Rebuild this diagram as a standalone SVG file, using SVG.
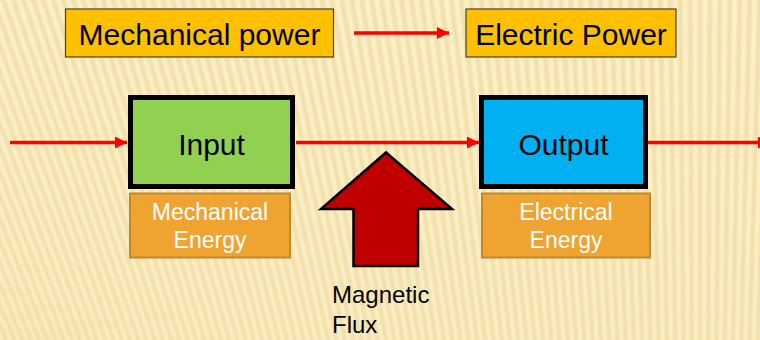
<svg xmlns="http://www.w3.org/2000/svg" width="760" height="340" viewBox="0 0 760 340">
<style>
.t{font-family:"Liberation Sans",Arial,sans-serif;}
.lbl{fill:#FFC000;stroke:#404040;stroke-width:1.2;}
.nrg{fill:#EFA432;stroke:#C4862A;stroke-width:2;}
.big{font-size:30px;fill:#000;text-anchor:middle;}
.wt{font-size:23px;fill:#FFFFFF;text-anchor:middle;}
.conn{stroke:#FF0000;stroke-width:3.5;fill:none;marker-end:url(#ah);}
</style>
<defs>
<marker id="ah" markerUnits="userSpaceOnUse" markerWidth="12" markerHeight="12" refX="12" refY="6" orient="auto">
<path d="M0,0 L12,6 L0,12 z" fill="#FF0000"/>
</marker>
<filter id="soft" x="-10%" y="-10%" width="120%" height="120%"><feGaussianBlur stdDeviation="1.6"/></filter>
</defs>
<rect width="760" height="340" fill="#FDF1CD"/>
<path filter="url(#soft)" stroke="#F0DBA0" stroke-width="4.5" fill="none" opacity="0.9" d="M700 2000L-300 -10M700 2000L-290 -10M700 2000L-280 -10M700 2000L-270 -10M700 2000L-260 -10M700 2000L-250 -10M700 2000L-240 -10M700 2000L-230 -10M700 2000L-220 -10M700 2000L-210 -10M700 2000L-200 -10M700 2000L-190 -10M700 2000L-180 -10M700 2000L-170 -10M700 2000L-160 -10M700 2000L-150 -10M700 2000L-140 -10M700 2000L-130 -10M700 2000L-120 -10M700 2000L-110 -10M700 2000L-100 -10M700 2000L-90 -10M700 2000L-80 -10M700 2000L-70 -10M700 2000L-60 -10M700 2000L-50 -10M700 2000L-40 -10M700 2000L-30 -10M700 2000L-20 -10M700 2000L-10 -10M700 2000L0 -10M700 2000L10 -10M700 2000L20 -10M700 2000L30 -10M700 2000L40 -10M700 2000L50 -10M700 2000L60 -10M700 2000L70 -10M700 2000L80 -10M700 2000L90 -10M700 2000L100 -10M700 2000L110 -10M700 2000L120 -10M700 2000L130 -10M700 2000L140 -10M700 2000L150 -10M700 2000L160 -10M700 2000L170 -10M700 2000L180 -10M700 2000L190 -10M700 2000L200 -10M700 2000L210 -10M700 2000L220 -10M700 2000L230 -10M700 2000L240 -10M700 2000L250 -10M700 2000L260 -10M700 2000L270 -10M700 2000L280 -10M700 2000L290 -10M700 2000L300 -10M700 2000L310 -10M700 2000L320 -10M700 2000L330 -10M700 2000L340 -10M700 2000L350 -10M700 2000L360 -10M700 2000L370 -10M700 2000L380 -10M700 2000L390 -10M700 2000L400 -10M700 2000L410 -10M700 2000L420 -10M700 2000L430 -10M700 2000L440 -10M700 2000L450 -10M700 2000L460 -10M700 2000L470 -10M700 2000L480 -10M700 2000L490 -10M700 2000L500 -10M700 2000L510 -10M700 2000L520 -10M700 2000L530 -10M700 2000L540 -10M700 2000L550 -10M700 2000L560 -10M700 2000L570 -10M700 2000L580 -10M700 2000L590 -10M700 2000L600 -10M700 2000L610 -10M700 2000L620 -10M700 2000L630 -10M700 2000L640 -10M700 2000L650 -10M700 2000L660 -10M700 2000L670 -10M700 2000L680 -10M700 2000L690 -10M700 2000L700 -10M700 2000L710 -10M700 2000L720 -10M700 2000L730 -10M700 2000L740 -10M700 2000L750 -10M700 2000L760 -10M700 2000L770 -10M700 2000L780 -10"/>

<g id="connectors">
<line class="conn" x1="354" y1="33" x2="449" y2="33"/>
<line class="conn" x1="10" y1="142.5" x2="127" y2="142.5"/>
<line class="conn" x1="296" y1="142.5" x2="479" y2="142.5"/>
<line class="conn" x1="648" y1="142.5" x2="770" y2="142.5"/>
</g>

<g id="mechanical-power">
<rect class="lbl" x="65.5" y="9" width="268" height="48"/>
<text class="t big" x="199.5" y="45">Mechanical power</text>
</g>
<g id="electric-power">
<rect class="lbl" x="466" y="9" width="210" height="48"/>
<text class="t big" x="571" y="45">Electric Power</text>
</g>

<g id="input">
<rect x="130.5" y="97.5" width="162" height="89" fill="#92D050" stroke="#000" stroke-width="5"/>
<text class="t big" x="211.5" y="155">Input</text>
</g>
<g id="output">
<rect x="481.5" y="97.5" width="164" height="89" fill="#00B0F0" stroke="#000" stroke-width="5"/>
<text class="t big" x="563.5" y="155">Output</text>
</g>

<g id="mechanical-energy">
<rect class="nrg" x="130" y="193.5" width="160" height="64"/>
<text class="t wt" x="210" y="220">Mechanical</text>
<text class="t wt" x="210" y="248">Energy</text>
</g>
<g id="electrical-energy">
<rect class="nrg" x="482" y="193.5" width="168" height="64"/>
<text class="t wt" x="566" y="220">Electrical</text>
<text class="t wt" x="566" y="248">Energy</text>
</g>

<g id="magnetic-flux">
<polygon points="386,152.5 452,209 418,209 418,266 353.5,266 353.5,209 321,209" fill="#C00000" stroke="#000" stroke-width="2.5" stroke-linejoin="miter"/>
<text class="t" x="332" y="303" font-size="24" fill="#000">Magnetic</text>
<text class="t" x="332" y="333" font-size="24" fill="#000">Flux</text>
</g>
</svg>
